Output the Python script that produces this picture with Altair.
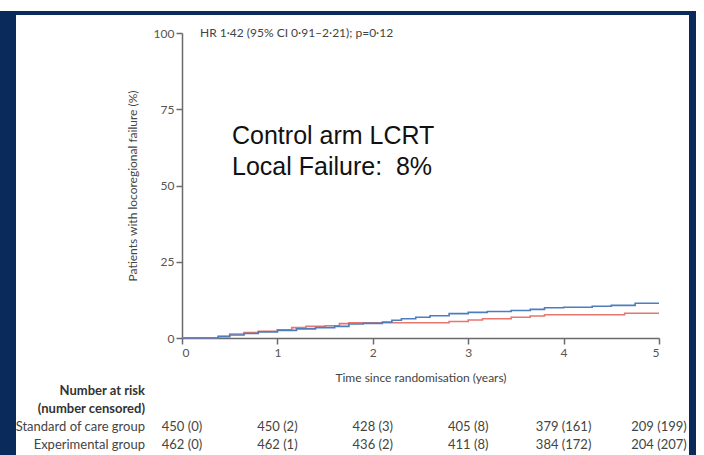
import altair as alt
import pandas as pd

# ---- data ----
exp_t = [0, 0.38, 0.5, 0.65, 0.8, 1.0, 1.2, 1.4, 1.6, 1.75, 1.9, 2.1, 2.2, 2.3, 2.45, 2.6, 2.8, 3.0, 3.2, 3.45, 3.65, 3.8, 4.0, 4.3, 4.5, 4.75, 5.0]
exp_v = [0, 0.4, 1.0, 1.5, 2.0, 2.5, 3.0, 3.4, 3.8, 4.6, 4.8, 5.2, 5.8, 6.3, 6.8, 7.3, 8.0, 8.4, 8.7, 9.0, 9.4, 9.9, 10.1, 10.4, 10.7, 11.4, 11.4]
soc_t = [0, 0.38, 0.5, 0.65, 0.8, 1.0, 1.15, 1.3, 1.5, 1.65, 1.75, 2.8, 3.0, 3.15, 3.45, 3.65, 3.8, 4.64, 5.0]
soc_v = [0, 0.6, 1.3, 1.8, 2.2, 2.7, 3.4, 3.8, 4.0, 4.7, 5.0, 5.4, 5.9, 6.3, 6.8, 7.2, 7.6, 8.1, 8.1]

groups = ["Standard of care group", "Experimental group"]
colors = ["#e8756e", "#4c7dbd"]

risk_times = [0, 1, 2, 3, 4, 5]
risk_soc = ["450 (0)", "450 (2)", "428 (3)", "405 (8)", "379 (161)", "209 (199)"]
risk_exp = ["462 (0)", "462 (1)", "436 (2)", "411 (8)", "384 (172)", "204 (207)"]

hr_text = "HR 1·42 (95% CI 0·91–2·21); p=0·12"
big_lines = ["Control arm LCRT", "Local Failure:\u00a0 8%"]
y_title = "Patients with locoregional failure (%)"
x_title = "Time since randomisation (years)"
risk_header = ["Number at risk", "(number censored)"]

FONT = "Lato"
GRAY = "#555555"
NAVY = "#0b2a5c"

curves = pd.DataFrame(
    [{"t": t, "v": v, "g": groups[0]} for t, v in zip(soc_t, soc_v)]
    + [{"t": t, "v": v, "g": groups[1]} for t, v in zip(exp_t, exp_v)]
)

W, H = 477, 305

xs = alt.Scale(domain=[0, 5], nice=False)
ys = alt.Scale(domain=[0, 100], nice=False)

lines = alt.Chart(curves).mark_line(interpolate="step-after", strokeWidth=1.6).encode(
    x=alt.X("t:Q", scale=xs, axis=alt.Axis(
        values=[0, 1, 2, 3, 4, 5], title=x_title, format="d",
        titleFont=FONT, titleFontSize=12, titleFontWeight="normal", titleColor="#444444",
        titlePadding=14,
        labelFont=FONT, labelFontSize=12, labelColor=GRAY, labelPadding=3,
        domainColor="#6a6a6a", domainWidth=1.5, tickColor="#6a6a6a", tickWidth=1.5, tickSize=6,
        grid=False)),
    y=alt.Y("v:Q", scale=ys, axis=alt.Axis(
        values=[0, 25, 50, 75, 100], title=y_title,
        titleFont=FONT, titleFontSize=12, titleFontWeight="normal", titleColor="#444444",
        titlePadding=14,
        labelFont=FONT, labelFontSize=12, labelColor=GRAY, labelPadding=2,
        domainColor="#6a6a6a", domainWidth=1.5, tickColor="#6a6a6a", tickWidth=1.5, tickSize=6,
        grid=False)),
    color=alt.Color("g:N", scale=alt.Scale(domain=groups, range=colors), legend=None),
)

one = alt.Data(values=[{}])

hr = alt.Chart(one).mark_text(text=hr_text, font=FONT, fontSize=12, color="#444444",
                              align="left", baseline="middle").encode(
    x=alt.value(18), y=alt.value(0))

big1 = alt.Chart(one).mark_text(text=big_lines[0], font="Liberation Sans", fontSize=25,
                                color="#111111", align="left", baseline="middle").encode(
    x=alt.value(50), y=alt.value(103))
big2 = alt.Chart(one).mark_text(text=big_lines[1], font="Liberation Sans", fontSize=25,
                                color="#111111", align="left", baseline="middle").encode(
    x=alt.value(50), y=alt.value(134))

hdr1 = alt.Chart(one).mark_text(text=risk_header[0], font=FONT, fontSize=13, fontWeight="bold",
                                color="#333333", align="right", baseline="middle").encode(
    x=alt.value(-37), y=alt.value(358))
hdr2 = alt.Chart(one).mark_text(text=risk_header[1], font=FONT, fontSize=13, fontWeight="bold",
                                color="#333333", align="right", baseline="middle").encode(
    x=alt.value(-37), y=alt.value(376))
lab1 = alt.Chart(one).mark_text(text=groups[0], font=FONT, fontSize=13,
                                color="#444444", align="right", baseline="middle").encode(
    x=alt.value(-37), y=alt.value(394))
lab2 = alt.Chart(one).mark_text(text=groups[1], font=FONT, fontSize=13,
                                color="#444444", align="right", baseline="middle").encode(
    x=alt.value(-37), y=alt.value(412))

risk_df = pd.DataFrame({"t": risk_times, "soc": risk_soc, "exp": risk_exp})
r1 = alt.Chart(risk_df).mark_text(font=FONT, fontSize=13, color="#444444",
                                  align="center", baseline="middle").encode(
    x=alt.X("t:Q", scale=xs), y=alt.value(394), text="soc:N")
r2 = alt.Chart(risk_df).mark_text(font=FONT, fontSize=13, color="#444444",
                                  align="center", baseline="middle").encode(
    x=alt.X("t:Q", scale=xs), y=alt.value(412), text="exp:N")

# decorative frame (slide border)
top_bar = alt.Chart(one).mark_rect(color=NAVY).encode(
    x=alt.value(-182), x2=alt.value(514), y=alt.value(-22), y2=alt.value(-18))
left_bar = alt.Chart(one).mark_rect(color=NAVY).encode(
    x=alt.value(-182), x2=alt.value(-166), y=alt.value(-22), y2=alt.value(422))
right_bar = alt.Chart(one).mark_rect(color=NAVY).encode(
    x=alt.value(507), x2=alt.value(514), y=alt.value(-22), y2=alt.value(422))

chart = alt.layer(
    lines, hr, big1, big2, hdr1, hdr2, lab1, lab2, r1, r2, top_bar, left_bar, right_bar
).properties(
    width=W, height=H,
    autosize=alt.AutoSizeParams(type="none"),
    padding={"left": 182, "top": 33, "right": 45, "bottom": 117},
    background="white",
).configure_view(stroke=None)

chart.save("out.html", embed_options={"renderer": "svg", "actions": False})
